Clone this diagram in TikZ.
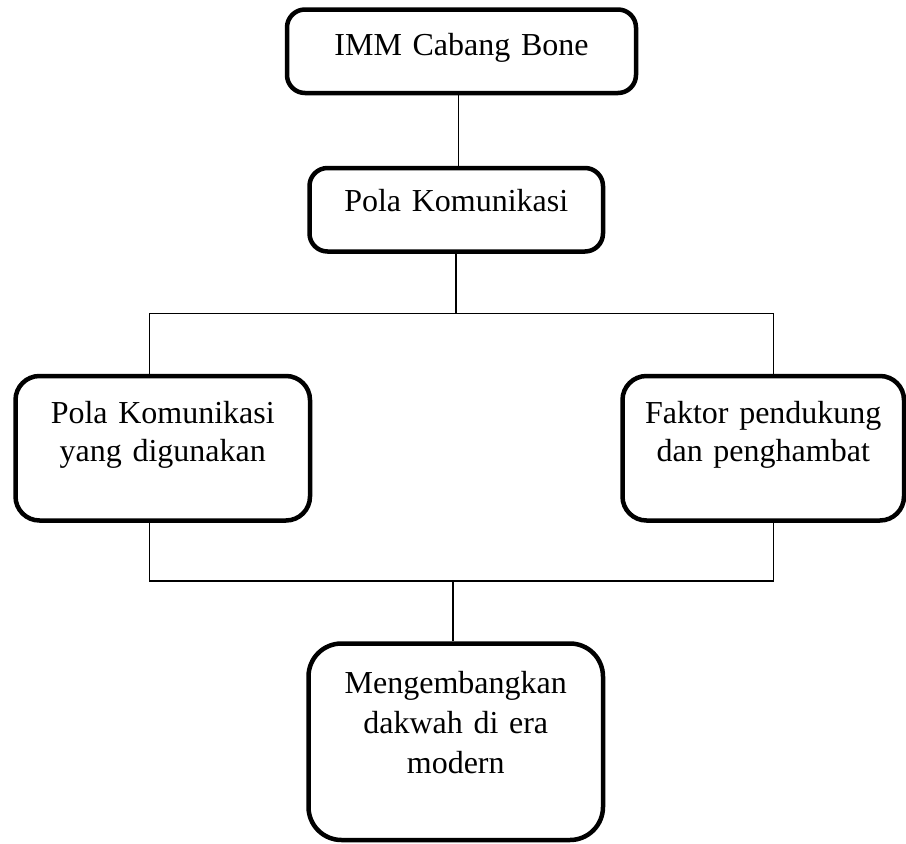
\documentclass[tikz,border=0pt]{standalone}
\usepackage{fontspec}
\setmainfont[WordSpace=0.75]{Liberation Serif}
\begin{document}
\begin{tikzpicture}[x=1pt,y=-1pt,
    kotak/.style={draw,line width=4.5pt,inner sep=0pt,align=center,font=\fontsize{32}{38}\selectfont},
    garis/.style={line width=1.6pt}]
  \useasboundingbox (0,0) rectangle (906,844);
  \node[kotak,rounded corners=18pt,text width=349pt,text height=45.5pt,text depth=38pt] (imm) at (461.5,51.25) {IMM Cabang Bone};
  \node[kotak,rounded corners=18pt,text width=293.5pt,text height=43.7pt,text depth=39.8pt] (pola) at (456.25,209.75) {Pola Komunikasi};
  \node[kotak,rounded corners=24pt,text width=294.5pt,text height=47.3pt,text depth=97.2pt] (guna) at (162.75,448.25) {Pola Komunikasi\\yang digunakan};
  \node[kotak,rounded corners=24pt,text width=281.5pt,text height=47.3pt,text depth=97.2pt] (faktor) at (763.25,448.25) {Faktor pendukung\\dan penghambat};
  \node[kotak,rounded corners=33pt,font=\fontsize{32}{40}\selectfont,text width=294.5pt,text height=49.5pt,text depth=147pt] (dakwah) at (455.75,741.75) {Mengembangkan\\dakwah di era\\modern};
  \coordinate (ka) at (149.3,313.3); \coordinate (kn) at (773.3,313.3);
  \coordinate (ba) at (149.3,580.7); \coordinate (bn) at (773.3,580.7);
  \draw[garis] ([xshift=-3.2pt]imm.south) -- ([xshift=-3.2pt]imm.south |- pola.north);
  \draw[garis] (pola.south) -- (pola.south |- ka);
  \draw[garis] (ka |- guna.north) -- (ka) -- (kn) -- (kn |- faktor.north);
  \draw[garis] (ka |- guna.south) -- (ba) -- (bn) -- (kn |- faktor.south);
  \draw[garis] ([xshift=-2.5pt]dakwah.north) -- ([xshift=-2.5pt]dakwah.north |- ba);
\end{tikzpicture}
\end{document}
